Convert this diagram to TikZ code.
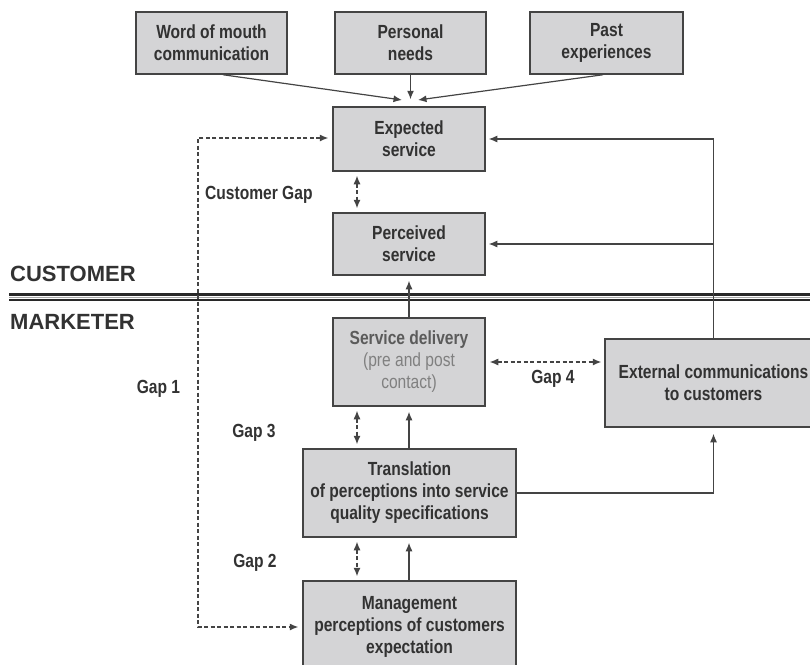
\documentclass[tikz,border=0pt]{standalone}
\usepackage{fontspec}
\setmainfont{Liberation Sans}
\newfontfamily\condfont{Liberation Sans}[FakeStretch=0.82]
\usetikzlibrary{arrows.meta,calc}

\definecolor{boxfill}{RGB}{212,212,214}
\definecolor{ink}{RGB}{50,50,50}
\definecolor{edge}{RGB}{68,68,68}
\definecolor{rule}{RGB}{40,40,40}

\begin{document}
\begin{tikzpicture}[x=1pt,y=-1pt,
  box/.style={draw=edge, line width=1.5pt, fill=boxfill, inner sep=0pt,
    align=center, text=ink, font=\condfont\bfseries\fontsize{19}{22}\selectfont},
  conn/.style={draw=edge, line width=1.2pt, -{Latex[length=8.5pt,width=7pt]}},
  gapline/.style={draw=edge, line width=1.1pt, dash pattern=on 4pt off 2.5pt,
    {Latex[length=8.5pt,width=7pt]}-{Latex[length=8.5pt,width=7pt]}},
  lbl/.style={text=ink, inner sep=0pt, font=\condfont\bfseries\fontsize{19}{22}\selectfont},
  side/.style={text=ink, inner sep=0pt, anchor=base west, font=\bfseries\fontsize{22}{26}\selectfont}]

\useasboundingbox (0,0) rectangle (810,664);
\clip (0,0) rectangle (810,664);

% influences on expectations
\node[box, minimum width=151pt, minimum height=62pt] (wom) at (211.5,43) {Word of mouth\\communication};
\node[box, minimum width=151pt, minimum height=62pt] (pn) at (410.5,43) {Personal\\needs};
\node[box, minimum width=153pt, minimum height=62pt] (pe) at (606.5,43) {Past\\experiences};

% customer side
\node[box, minimum width=152pt, minimum height=64pt] (exp) at (409,139) {Expected\\service};
\node[box, minimum width=152pt, minimum height=62pt] (per) at (409,244) {Perceived\\service};

% marketer side
\node[box, minimum width=152pt, minimum height=88pt, text=ink!80] (sd) at (409,362)
  {Service delivery\\{\mdseries\color{gray}(pre and post}\\{\mdseries\color{gray}contact)}};
\node[box, minimum width=217pt, minimum height=88pt] (ext) at (713.5,383) {External communications\\to customers};
\node[box, minimum width=213pt, minimum height=88pt] (tr) at (409.5,493)
  {Translation\\of perceptions into service\\quality specifications};
\node[box, minimum width=213pt, minimum height=92pt] (mg) at (409.5,627)
  {Management\\perceptions of customers\\expectation};

% customer / marketer divide
\draw[rule, line width=2.6pt] (9,294.5) -- (815,294.5);
\draw[rule, line width=2.6pt] (9,299.8) -- (815,299.8);
\draw[gray!70, line width=1.2pt] (9,297.2) -- (815,297.2);

\node[side] (cust) at (10,281) {CUSTOMER};
\node[side] (mkt) at (10,329) {MARKETER};

% lanes for the gap arrows
\coordinate (lane) at (357,0);
\coordinate (g1x) at (198,0);
\coordinate (tipL) at (402,100);
\coordinate (tipR) at (418,100);

% arrows into expected service
\draw[conn] ($(wom.south)+(11.5,0)$) -- (tipL);
\draw[conn, shorten >=7pt] (pn.south) -- (pn.south |- exp.north);
\draw[conn] ($(pe.south)+(-3.5,0)$) -- (tipR);

% customer gap
\draw[gapline, shorten <=4pt, shorten >=4pt] (exp.south -| lane) -- (per.north -| lane);
\node[lbl, anchor=base west] (cg) at (205,199) {Customer Gap};

% gap 1
\draw[gapline, shorten <=4pt, shorten >=4pt] ($(exp.west)+(0,-1)$) -- ($(exp.west -| g1x)+(0,-1)$)
  -- (mg.west -| g1x) -- (mg.west);
\node[lbl, anchor=base] (g1) at (158.5,393) {Gap 1};

% delivery to perception
\draw[conn, shorten >=5pt] (sd.north) -- (per.south);

% gap 3
\draw[gapline, shorten <=4pt, shorten >=4pt] (sd.south -| lane) -- (tr.north -| lane);
\draw[conn, shorten >=5pt] (tr.north -| sd.south) -- (sd.south);
\node[lbl, anchor=base] (g3) at (254,437) {Gap 3};

% gap 2
\draw[gapline, shorten <=4pt, shorten >=4pt] (tr.south -| lane) -- (mg.north -| lane);
\draw[conn, shorten >=5pt] (mg.north -| sd.south) -- (tr.south -| sd.south);
\node[lbl, anchor=base] (g2) at (255,567) {Gap 2};

% gap 4
\draw[gapline, shorten <=4pt, shorten >=3pt] (sd.east) -- (sd.east -| ext.west);
\node[lbl, anchor=base] (g4) at (553,383) {Gap 4};

% external communications feedback
\draw[conn, shorten >=3pt] (ext.north) |- (exp.east);
\draw[conn, shorten >=3pt] (ext.north |- per.east) -- (per.east);
\draw[conn, shorten >=6pt] (tr.east) -| (ext.south);
\end{tikzpicture}
\end{document}
